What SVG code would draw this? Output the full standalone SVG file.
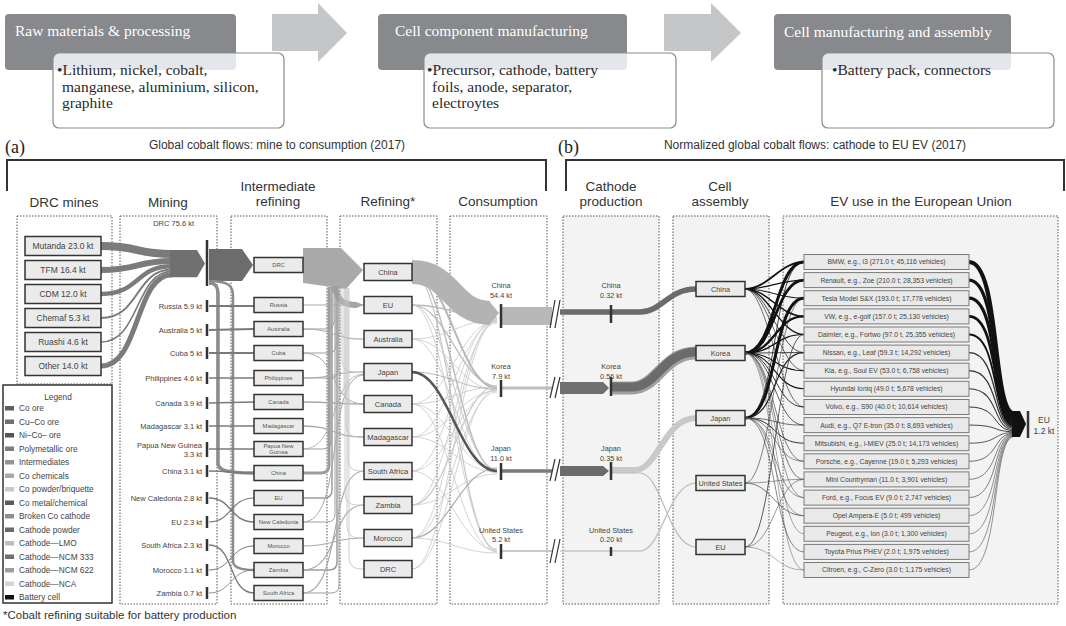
<svg xmlns="http://www.w3.org/2000/svg" width="1066" height="626" viewBox="0 0 1066 626">
<defs>
<style>
text{font-family:"Liberation Sans",Arial,sans-serif;fill:#333}
.ban{font-family:"Liberation Serif","Times New Roman",serif;font-size:15.5px;fill:#2a2a2a}
.banw{font-family:"Liberation Serif","Times New Roman",serif;font-size:15.5px;fill:#fff}
.ser{font-family:"Liberation Serif","Times New Roman",serif;font-size:18px;fill:#222}
.dk{fill:#88898c}
.wb{fill:#fff}
.wbs{fill:none;stroke:#8a8a8a;stroke-width:1.2}
.ov{fill:#e3e7ec}
.arr{fill:#c5c6c8}
.hdr{font-size:13.5px;text-anchor:middle;fill:#333}
.ttl{font-size:12px;text-anchor:middle;fill:#333}
.brk{fill:none;stroke:#333;stroke-width:2}
.dash{fill:none;stroke:#555;stroke-width:1;stroke-dasharray:1.5 1.5}
.shade{fill:#f3f3f3}
.nb{fill:#ebebeb;stroke:#333;stroke-width:1.5}
.eb{fill:#e9e9e9;stroke:#7a7a7a;stroke-width:1}
.bar{stroke:#333;stroke-width:2.5}
.l85{font-size:8.5px;text-anchor:middle;fill:#444}
.ml{font-size:7.5px;text-anchor:end;fill:#444}
.il{font-size:5.8px;text-anchor:middle;fill:#555}
.rl{font-size:7.5px;text-anchor:middle;fill:#444}
.cl{font-size:7.3px;text-anchor:middle;fill:#444}
.el{font-size:6.8px;text-anchor:middle;fill:#444}
.lg{font-size:8.3px;fill:#444}
.bm{fill:none;stroke:#333;stroke-width:1.2}
</style>
</defs>
<rect width="1066" height="626" fill="#fff"/>

<!-- Banner -->
<g id="stage-raw">
<rect x="5" y="14" width="231" height="56" rx="4" class="dk"/>
<rect x="53" y="53" width="231" height="75" rx="6" class="wb"/>
<path d="M53.6,59 Q53.6,53.6 59,53.6 H236 V66 Q236,70 232,70 H53.6 Z" class="ov"/>
<rect x="53" y="53" width="231" height="75" rx="6" class="wbs"/>
<text x="15" y="36" class="banw">Raw materials &amp; processing</text>
<text x="57" y="75" class="ban">•Lithium, nickel, cobalt,</text>
<text x="62" y="92" class="ban">manganese, aluminium, silicon,</text>
<text x="62" y="108" class="ban">graphite</text>
</g>
<g id="arrow-1"><polygon points="272,14 318,14 318,3 347,33 318,62 318,51 272,51" class="arr"/></g>
<g id="stage-component">
<rect x="378" y="14" width="249" height="56" rx="4" class="dk"/>
<rect x="424" y="53" width="252" height="75" rx="6" class="wb"/>
<path d="M424.6,59 Q424.6,53.6 430,53.6 H627 V66 Q627,70 623,70 H424.6 Z" class="ov"/>
<rect x="424" y="53" width="252" height="75" rx="6" class="wbs"/>
<text x="395" y="36" class="banw">Cell component manufacturing</text>
<text x="427" y="75" class="ban">•Precursor, cathode, battery</text>
<text x="432" y="92" class="ban">foils, anode, separator,</text>
<text x="432" y="108" class="ban">electroytes</text>
</g>
<g id="arrow-2"><polygon points="664,14 711,14 711,3 741,33 711,62 711,51 664,51" class="arr"/></g>
<g id="stage-cell">
<rect x="774" y="14" width="237" height="56" rx="4" class="dk"/>
<rect x="822" y="53" width="232" height="75" rx="6" class="wb"/>
<path d="M822.6,59 Q822.6,53.6 828,53.6 H1011 V66 Q1011,70 1007,70 H822.6 Z" class="ov"/>
<rect x="822" y="53" width="232" height="75" rx="6" class="wbs"/>
<text x="784" y="37" class="banw">Cell manufacturing and assembly</text>
<text x="832" y="75" class="ban">•Battery pack, connectors</text>
</g>

<!-- Titles and brackets -->
<g id="titles">
<text x="5" y="153" class="ser">(a)</text>
<text x="277" y="149" class="ttl">Global cobalt flows: mine to consumption (2017)</text>
<path d="M7,191 V160 H546 V191" class="brk"/>
<text x="558" y="153" class="ser">(b)</text>
<text x="815" y="149" class="ttl">Normalized global cobalt flows: cathode to EU EV (2017)</text>
<path d="M566,191 V160 H1064 V191" class="brk"/>
<text x="64" y="207" class="hdr">DRC mines</text>
<text x="168" y="207" class="hdr">Mining</text>
<text x="278" y="191" class="hdr">Intermediate</text>
<text x="278" y="206" class="hdr">refining</text>
<text x="388" y="206" class="hdr">Refining*</text>
<text x="498" y="206" class="hdr">Consumption</text>
<text x="611" y="191" class="hdr">Cathode</text>
<text x="611" y="206" class="hdr">production</text>
<text x="720" y="191" class="hdr">Cell</text>
<text x="720" y="206" class="hdr">assembly</text>
<text x="921" y="206" class="hdr">EV use in the European Union</text>
<text x="3" y="619" style="font-size:11.5px;fill:#333">*Cobalt refining suitable for battery production</text>
</g>

<!-- Column frames -->
<g id="columns">
<rect x="17" y="216" width="95" height="168" class="dash"/>
<rect x="120" y="216" width="97" height="388" class="dash"/>
<rect x="231" y="216" width="96" height="388" class="dash"/>
<rect x="340" y="216" width="97" height="388" class="dash"/>
<rect x="450" y="216" width="97" height="388" class="dash"/>
<rect x="563" y="216" width="96" height="388" class="shade"/>
<rect x="563" y="216" width="96" height="388" class="dash"/>
<rect x="673" y="216" width="96" height="388" class="shade"/>
<rect x="673" y="216" width="96" height="388" class="dash"/>
<rect x="783" y="216" width="275" height="388" class="shade"/>
<rect x="783" y="216" width="275" height="388" class="dash"/>
</g>

<!-- Connectors -->
<g id="connectors" fill="none">
<g stroke="#7b7b7b">
<path d="M101,246 C140,246 135,254 172,254" stroke-width="8"/>
<path d="M101,270 C140,270 135,261 172,261" stroke-width="6"/>
<path d="M101,294 C140,294 135,266.3 172,266.3" stroke-width="4.5"/>
<path d="M101,318 C140,318 135,269.5 172,269.5" stroke-width="2"/>
<path d="M101,342 C140,342 135,271.4 172,271.4" stroke-width="1.7"/>
<path d="M101,366 C140,366 135,274.7 172,274.7" stroke-width="5"/>
</g>
<polygon points="170,250 197,250 205,263.6 197,277.2 170,277.2" fill="#707070"/>
<polygon points="209,249 242,249 253,265 242,281 209,281" fill="#6c6c6c"/>
<g stroke="#8c8c8c">
<path d="M209,283 C216,283 218,287 218,295 V463 C218,470 225,473 254,473" stroke-width="3.5"/>
<path d="M209,281 C229,281 233,286 233,296 V561 C233,567 240,570 254,570" stroke-width="2.5"/>
</g>
<g stroke="#7a7a7a">
<path d="M209,306 H254" stroke-width="2"/>
<path d="M209,330 C230,330 232,329 254,329" stroke-width="1.8"/>
<path d="M209,353 H254" stroke-width="1.8"/>
<path d="M209,378 H254" stroke-width="1.7"/>
<path d="M209,403 C230,403 232,402 254,402" stroke-width="1.6"/>
<path d="M209,426 H254" stroke-width="1.4"/>
<path d="M209,449 H254" stroke-width="1.4"/>
<path d="M209,471 C230,471 232,473 254,473" stroke-width="1.4"/>
<path d="M209,498 C232,498 230,522 254,522" stroke-width="1.5"/>
<path d="M209,522 C232,522 230,498 254,498" stroke-width="1.2"/>
<path d="M209,545 C235,545 228,593 254,593" stroke-width="1.3"/>
<path d="M209,570 C232,570 230,546 254,546" stroke-width="1"/>
<path d="M209,593 C232,593 230,570 254,570" stroke-width="0.8"/>
</g>
<!-- intermediate to refining -->
<polygon points="303,248 341,248 363,270 346,289 303,283" fill="#a9a9a9"/>
<path d="M334,286 C338,300 342,305 357,305" stroke="#a3a3a3" stroke-width="6"/>
<polygon points="356,302 364,305 356,308" fill="#a3a3a3"/>
<g stroke="#9d9d9d">
<path d="M303,329 H326 Q334,329 334,321 V287" stroke-width="1"/>
<path d="M303,353 H328 Q336,353 336,345 V287" stroke-width="1"/>
<path d="M303,378 H330 Q338,378 338,370 V287" stroke-width="1"/>
<path d="M303,449 H323 Q331,449 331,441 V287" stroke-width="1.2"/>
<path d="M303,473 H321 Q329,473 329,465 V287" stroke-width="3"/>
<path d="M303,498 H324 Q332,498 332,490 V287" stroke-width="1.5"/>
<path d="M303,522 H327 Q335,522 335,514 V287" stroke-width="1"/>
<path d="M303,570 H329 Q337,570 337,562 V287" stroke-width="1.5"/>
<path d="M303,593 H331 Q339,593 339,585 V287" stroke-width="1"/>
</g>
<g stroke="#aaaaaa">
<path d="M303,305 H364" stroke-width="1.2"/>
<path d="M303,329 C335,329 332,339 364,339" stroke-width="1"/>
<path d="M303,353 C340,353 328,404 364,404" stroke-width="1"/>
<path d="M303,378 C335,378 332,372 364,372" stroke-width="1"/>
<path d="M303,402 C335,402 332,404 364,404" stroke-width="1.3"/>
<path d="M303,426 C335,426 332,437 364,437" stroke-width="1.3"/>
<path d="M303,449 C340,449 330,374 364,374" stroke-width="0.8"/>
<path d="M303,522 C345,522 325,375 364,375" stroke-width="1"/>
<path d="M303,546 C335,546 332,538 364,538" stroke-width="1.2"/>
<path d="M303,570 C340,570 330,505 364,505" stroke-width="1.2"/>
<path d="M303,593 C342,593 328,471 364,471" stroke-width="1.2"/>
</g>
<g stroke="#c2c2c2" stroke-width="0.8">
<path d="M340,288 V327 Q340,339 352,339 H364"/>
<path d="M342,288 V360 Q342,372 354,372 H364"/>
<path d="M344,288 V392 Q344,404 356,404 H364"/>
<path d="M346,288 V425 Q346,437 358,437 H364"/>
<path d="M348,288 V459 Q348,471 360,471 H364"/>
<path d="M345,288 V493 Q345,505 357,505 H364"/>
<path d="M347,288 V526 Q347,538 359,538 H364"/>
<path d="M349,288 V557 Q349,569 361,569 H364"/>
</g>
<!-- refining to consumption -->
<g stroke="#c8c8c8" stroke-width="0.8">
<path d="M412,272 C448,272 460,388 497,388" stroke="#b8b8b8" stroke-width="2"/>
<path d="M412,272 C448,272 460,471 497,471" stroke="#bdbdbd" stroke-width="1.5"/>
<path d="M412,272 C448,272 460,551 497,551" stroke="#c5c5c5" stroke-width="1.2"/>
<path d="M412,305 C448,305 460,318 497,318" stroke="#bbbbbb" stroke-width="1.5"/>
<path d="M412,305 C448,305 460,386 497,386" stroke="#bbbbbb" stroke-width="1.2"/>
<path d="M412,305 C448,305 460,469 497,469" stroke-width="1"/>
<path d="M412,305 C448,305 460,549 497,549"/>
<path d="M412,339 C448,339 460,320 497,320"/>
<path d="M412,339 C448,339 460,390 497,390"/>
<path d="M412,339 C448,339 460,473 497,473"/>
<path d="M412,372 C448,372 460,389 497,389" stroke="#aaaaaa"/>
<path d="M412,404 C448,404 460,321 497,321"/>
<path d="M412,404 C448,404 460,387 497,387"/>
<path d="M412,404 C448,404 460,470 497,470"/>
<path d="M412,404 C448,404 460,552 497,552"/>
<path d="M412,437 C448,437 460,322 497,322"/>
<path d="M412,437 C448,437 460,391 497,391"/>
<path d="M412,437 C448,437 460,472 497,472"/>
<path d="M412,471 C448,471 460,319 497,319"/>
<path d="M412,471 C448,471 460,390 497,390"/>
<path d="M412,471 C448,471 460,550 497,550"/>
<path d="M412,505 C448,505 460,323 497,323"/>
<path d="M412,505 C448,505 460,386 497,386" stroke-width="1.2"/>
<path d="M412,505 C448,505 460,474 497,474"/>
<path d="M412,538 C448,538 460,320 497,320"/>
<path d="M412,538 C448,538 460,392 497,392"/>
<path d="M412,538 C448,538 460,468 497,468" stroke="#aaaaaa" stroke-width="1.2"/>
<path d="M412,538 C448,538 460,553 497,553"/>
<path d="M412,569 C448,569 460,321 497,321"/>
<path d="M412,569 C448,569 460,389 497,389"/>
</g>
<path d="M412,372 C448,372 460,471 497,471" stroke="#555" stroke-width="2.5"/>
<path d="M412,272 C452,272 452,313 490,313" stroke="#b3b3b3" stroke-width="24"/>
<polygon points="489,301 499,313 489,325" fill="#b3b3b3"/>
<!-- consumption to break -->
<rect x="502" y="307" width="50" height="18" fill="#b8b8b8"/>
<path d="M502,388 H552" stroke="#bdbdbd" stroke-width="3"/>
<path d="M502,471 H552" stroke="#7a7a7a" stroke-width="3.5"/>
<path d="M502,551 H552" stroke="#c8c8c8" stroke-width="2"/>
<path d="M550,328 L555,300 M555,328 L560,300" class="bm"/>
<path d="M550,398 L555,377 M555,398 L560,377" class="bm"/>
<path d="M550,481 L555,459 M555,481 L560,459" class="bm"/>
<path d="M550,563 L555,539 M555,563 L560,539" class="bm"/>
<!-- cathode to cell -->
<path d="M560,312 H640 C662,312 668,289 696,289" stroke="#6b6b6b" stroke-width="5.5"/>
<polygon points="560,382 603,382 609,388 603,394 560,394" fill="#707070"/>
<path d="M612,388 H632 C657,388 663,353 696,353" stroke="#a0a0a0" stroke-width="13"/>
<path d="M612,387 H632 C657,387 663,352 696,352" stroke="#6b6b6b" stroke-width="9"/>
<polygon points="560,466 603,466 609,471 603,476 560,476" fill="#6b6b6b"/>
<path d="M612,470 H635 C658,470 664,418 696,418" stroke="#c9c9c9" stroke-width="6"/>
<path d="M612,473 H640 C662,473 668,547 696,547" stroke="#bbbbbb" stroke-width="1.2"/>
<path d="M560,551 H640 C662,551 668,483 696,483" stroke="#c6c6c6" stroke-width="1.5"/>
<!-- cell to EV -->
<g stroke="#111">
<path d="M745,289 C768,289 780,262 804,262" stroke-width="1.8"/>
<path d="M745,289 C768,289 780,280.1 804,280.1" stroke-width="1.2"/>
<path d="M745,289 C768,289 780,298.2 804,298.2" stroke-width="1"/>
<path d="M745,289 C768,289 780,316.4 804,316.4" stroke-width="1.5"/>
<path d="M745,289 C768,289 780,334.5 804,334.5" stroke-width="1.3"/>
<path d="M745,289 C768,289 780,352.6 804,352.6" stroke-width="0.8" stroke="#222"/>
<path d="M745,289 C768,289 780,370.7 804,370.7" stroke-width="0.7" stroke="#222"/>
<path d="M745,289 C768,289 780,407 804,407" stroke-width="0.7" stroke="#333"/>
<path d="M745,353 C775,353 775,262 804,262" stroke-width="3"/>
<path d="M745,353 C775,353 775,280.1 804,280.1" stroke-width="2.8"/>
<path d="M745,353 C775,353 775,316.4 804,316.4" stroke-width="2.2"/>
<path d="M745,353 C775,353 775,334.5 804,334.5" stroke-width="1.2"/>
<path d="M745,353 C775,353 775,352.6 804,352.6" stroke-width="0.8"/>
<path d="M745,353 C775,353 775,370.7 804,370.7" stroke-width="1.1"/>
<path d="M745,353 C775,353 775,388.8 804,388.8" stroke-width="1.1"/>
<path d="M745,353 C775,353 775,407 804,407" stroke-width="0.9" stroke="#222"/>
<path d="M745,353 C775,353 775,425.1 804,425.1" stroke-width="0.8" stroke="#333"/>
<path d="M745,353 C775,353 775,461.3 804,461.3" stroke-width="0.7" stroke="#444"/>
<path d="M745,353 C775,353 775,479.4 804,479.4" stroke-width="0.7" stroke="#444"/>
<path d="M745,353 C775,353 775,497.6 804,497.6" stroke-width="0.6" stroke="#555"/>
<path d="M745,353 C775,353 775,533.8 804,533.8" stroke-width="0.5" stroke="#555"/>
<path d="M745,353 C775,353 775,570 804,570" stroke-width="0.5" stroke="#555"/>
<path d="M745,418 C778,418 772,298.2 804,298.2" stroke-width="3"/>
<path d="M745,418 C778,418 772,262 804,262" stroke-width="0.8"/>
<path d="M745,418 C778,418 772,352.6 804,352.6" stroke-width="1.2" stroke="#222"/>
<path d="M745,418 C778,418 772,425.1 804,425.1" stroke-width="0.7" stroke="#333"/>
<path d="M745,418 C778,418 772,443.2 804,443.2" stroke-width="1" stroke="#333"/>
<path d="M745,418 C778,418 772,461.3 804,461.3" stroke-width="0.6" stroke="#444"/>
<path d="M745,418 C778,418 772,497.6 804,497.6" stroke-width="0.6" stroke="#555"/>
<path d="M745,418 C778,418 772,515.7 804,515.7" stroke-width="0.6" stroke="#555"/>
<path d="M745,418 C778,418 772,551.9 804,551.9" stroke-width="0.7" stroke="#555"/>
<path d="M745,483 C772,483 776,515.7 804,515.7" stroke-width="0.8" stroke="#555"/>
<path d="M745,483 C772,483 776,298.2 804,298.2" stroke-width="0.6" stroke="#333"/>
<path d="M745,483 C772,483 776,479.4 804,479.4" stroke-width="0.6" stroke="#555"/>
<path d="M745,547 C774,547 776,334.5 804,334.5" stroke-width="0.8" stroke="#333"/>
<path d="M745,547 C774,547 776,479.4 804,479.4" stroke-width="0.6" stroke="#555"/>
<path d="M745,547 C774,547 776,570 804,570" stroke-width="0.5" stroke="#666"/>
</g>
<!-- EV to EU -->
<g stroke="#111">
<path d="M969,262 C1000,262 992,413.3 1014,413.3" stroke-width="4.2"/>
<path d="M969,280.1 C1000,280.1 992,417.1 1014,417.1" stroke-width="3.4"/>
<path d="M969,298.2 C1000,298.2 992,420.4 1014,420.4" stroke-width="3.2"/>
<path d="M969,316.4 C1000,316.4 992,423.4 1014,423.4" stroke-width="2.7"/>
<path d="M969,334.5 C1000,334.5 992,425.7 1014,425.7" stroke-width="1.9"/>
<path d="M969,352.6 C1000,352.6 992,427.3 1014,427.3" stroke-width="1.3" stroke="#333"/>
<path d="M969,370.7 C1000,370.7 992,428.5 1014,428.5" stroke-width="1.2" stroke="#333"/>
<path d="M969,388.8 C1000,388.8 992,429.7 1014,429.7" stroke-width="1.1" stroke="#333"/>
<path d="M969,407 C1000,407 992,430.7 1014,430.7" stroke-width="1" stroke="#333"/>
<path d="M969,425.1 C1000,425.1 992,431.7 1014,431.7" stroke-width="0.9" stroke="#333"/>
<path d="M969,443.2 C1000,443.2 992,432.5 1014,432.5" stroke-width="0.8" stroke="#333"/>
<path d="M969,461.3 C1000,461.3 992,433.3 1014,433.3" stroke-width="0.7" stroke="#333"/>
<path d="M969,479.4 C1000,479.4 992,433.9 1014,433.9" stroke-width="0.6" stroke="#333"/>
<path d="M969,497.6 C1000,497.6 992,434.5 1014,434.5" stroke-width="0.6" stroke="#333"/>
<path d="M969,515.7 C1000,515.7 992,435.1 1014,435.1" stroke-width="0.5" stroke="#333"/>
<path d="M969,533.8 C1000,533.8 992,435.6 1014,435.6" stroke-width="0.5" stroke="#333"/>
<path d="M969,551.9 C1000,551.9 992,436.1 1014,436.1" stroke-width="0.5" stroke="#333"/>
<path d="M969,570 C1000,570 992,436.6 1014,436.6" stroke-width="0.5" stroke="#333"/>
</g>
<polygon points="1012,411 1020,411 1026,424 1020,437 1012,437" fill="#111"/>
</g>

<!-- DRC mines -->
<g id="mine-mutanda"><rect x="25" y="236.5" width="76" height="19" class="nb"/><text x="63" y="249" class="l85">Mutanda 23.0 kt</text></g>
<g id="mine-tfm"><rect x="25" y="260.5" width="76" height="19" class="nb"/><text x="63" y="273" class="l85">TFM 16.4 kt</text></g>
<g id="mine-cdm"><rect x="25" y="284.5" width="76" height="19" class="nb"/><text x="63" y="297" class="l85">CDM 12.0 kt</text></g>
<g id="mine-chemaf"><rect x="25" y="308.5" width="76" height="19" class="nb"/><text x="63" y="321" class="l85">Chemaf 5.3 kt</text></g>
<g id="mine-ruashi"><rect x="25" y="332.5" width="76" height="19" class="nb"/><text x="63" y="345" class="l85">Ruashi 4.6 kt</text></g>
<g id="mine-other"><rect x="25" y="356.5" width="76" height="19" class="nb"/><text x="63" y="369" class="l85">Other 14.0 kt</text></g>

<!-- Mining nodes -->
<g id="mining-drc"><line x1="207" y1="240" x2="207" y2="286" class="bar"/><text x="194" y="226" class="ml">DRC 75.6 kt</text></g>
<g id="mining-russia"><line x1="207" y1="300" x2="207" y2="312" class="bar"/><text x="202" y="308.5" class="ml">Russia 5.9 kt</text></g>
<g id="mining-australia"><line x1="207" y1="324" x2="207" y2="336" class="bar"/><text x="202" y="332.5" class="ml">Australia 5 kt</text></g>
<g id="mining-cuba"><line x1="207" y1="347" x2="207" y2="359" class="bar"/><text x="202" y="355.5" class="ml">Cuba 5 kt</text></g>
<g id="mining-philippines"><line x1="207" y1="372" x2="207" y2="384" class="bar"/><text x="202" y="380.5" class="ml">Philippines 4.6 kt</text></g>
<g id="mining-canada"><line x1="207" y1="397" x2="207" y2="409" class="bar"/><text x="202" y="405.5" class="ml">Canada 3.9 kt</text></g>
<g id="mining-madagascar"><line x1="207" y1="420" x2="207" y2="432" class="bar"/><text x="202" y="428.5" class="ml">Madagascar 3.1 kt</text></g>
<g id="mining-png"><line x1="207" y1="442" x2="207" y2="457" class="bar"/><text x="202" y="448" class="ml">Papua New Guinea</text><text x="202" y="457" class="ml">3.3 kt</text></g>
<g id="mining-china"><line x1="207" y1="465" x2="207" y2="477" class="bar"/><text x="202" y="473.5" class="ml">China 3.1 kt</text></g>
<g id="mining-newcaledonia"><line x1="207" y1="492" x2="207" y2="504" class="bar"/><text x="202" y="500.5" class="ml">New Caledonia 2.8 kt</text></g>
<g id="mining-eu"><line x1="207" y1="516" x2="207" y2="528" class="bar"/><text x="202" y="524.5" class="ml">EU 2.3 kt</text></g>
<g id="mining-southafrica"><line x1="207" y1="539" x2="207" y2="551" class="bar"/><text x="202" y="547.5" class="ml">South Africa 2.3 kt</text></g>
<g id="mining-morocco"><line x1="207" y1="564" x2="207" y2="576" class="bar"/><text x="202" y="572.5" class="ml">Morocco 1.1 kt</text></g>
<g id="mining-zambia"><line x1="207" y1="587" x2="207" y2="599" class="bar"/><text x="202" y="595.5" class="ml">Zambia 0.7 kt</text></g>

<!-- Intermediate refining -->
<g id="int-drc"><rect x="254" y="257.5" width="49" height="15" class="nb"/><text x="278.5" y="267" class="il">DRC</text></g>
<g id="int-russia"><rect x="254" y="297.5" width="49" height="15" class="nb"/><text x="278.5" y="307" class="il">Russia</text></g>
<g id="int-australia"><rect x="254" y="321.5" width="49" height="15" class="nb"/><text x="278.5" y="331" class="il">Australia</text></g>
<g id="int-cuba"><rect x="254" y="345.5" width="49" height="15" class="nb"/><text x="278.5" y="355" class="il">Cuba</text></g>
<g id="int-philippines"><rect x="254" y="370.5" width="49" height="15" class="nb"/><text x="278.5" y="380" class="il">Philippines</text></g>
<g id="int-canada"><rect x="254" y="394.5" width="49" height="15" class="nb"/><text x="278.5" y="404" class="il">Canada</text></g>
<g id="int-madagascar"><rect x="254" y="418.5" width="49" height="15" class="nb"/><text x="278.5" y="428" class="il">Madagascar</text></g>
<g id="int-png"><rect x="254" y="441.5" width="49" height="15" class="nb"/><text x="278.5" y="447.5" class="il">Papua New</text><text x="278.5" y="454" class="il">Guinea</text></g>
<g id="int-china"><rect x="254" y="465.5" width="49" height="15" class="nb"/><text x="278.5" y="475" class="il">China</text></g>
<g id="int-eu"><rect x="254" y="490.5" width="49" height="15" class="nb"/><text x="278.5" y="500" class="il">EU</text></g>
<g id="int-newcaledonia"><rect x="254" y="514.5" width="49" height="15" class="nb"/><text x="278.5" y="524" class="il">New Caledonia</text></g>
<g id="int-morocco"><rect x="254" y="538.5" width="49" height="15" class="nb"/><text x="278.5" y="548" class="il">Morocco</text></g>
<g id="int-zambia"><rect x="254" y="562.5" width="49" height="15" class="nb"/><text x="278.5" y="572" class="il">Zambia</text></g>
<g id="int-southafrica"><rect x="254" y="585.5" width="49" height="15" class="nb"/><text x="278.5" y="595" class="il">South Africa</text></g>

<!-- Refining -->
<g id="ref-china"><rect x="364" y="263.5" width="48" height="17" class="nb"/><text x="388" y="274.7" class="rl">China</text></g>
<g id="ref-eu"><rect x="364" y="296.5" width="48" height="17" class="nb"/><text x="388" y="307.7" class="rl">EU</text></g>
<g id="ref-australia"><rect x="364" y="330.5" width="48" height="17" class="nb"/><text x="388" y="341.7" class="rl">Australia</text></g>
<g id="ref-japan"><rect x="364" y="363.5" width="48" height="17" class="nb"/><text x="388" y="374.7" class="rl">Japan</text></g>
<g id="ref-canada"><rect x="364" y="395.5" width="48" height="17" class="nb"/><text x="388" y="406.7" class="rl">Canada</text></g>
<g id="ref-madagascar"><rect x="364" y="428.5" width="48" height="17" class="nb"/><text x="388" y="439.7" class="rl">Madagascar</text></g>
<g id="ref-southafrica"><rect x="364" y="462.5" width="48" height="17" class="nb"/><text x="388" y="473.7" class="rl">South Africa</text></g>
<g id="ref-zambia"><rect x="364" y="496.5" width="48" height="17" class="nb"/><text x="388" y="507.7" class="rl">Zambia</text></g>
<g id="ref-morocco"><rect x="364" y="529.5" width="48" height="17" class="nb"/><text x="388" y="540.7" class="rl">Morocco</text></g>
<g id="ref-drc"><rect x="364" y="560.5" width="48" height="17" class="nb"/><text x="388" y="571.7" class="rl">DRC</text></g>

<!-- Consumption -->
<g id="cons-china"><line x1="501" y1="304" x2="501" y2="328" class="bar"/><text x="501" y="288" class="cl">China</text><text x="501" y="298" class="cl">54.4 kt</text></g>
<g id="cons-korea"><line x1="501" y1="380" x2="501" y2="397" class="bar"/><text x="501" y="369" class="cl">Korea</text><text x="501" y="379" class="cl">7.9 kt</text></g>
<g id="cons-japan"><line x1="501" y1="463" x2="501" y2="480" class="bar"/><text x="501" y="451" class="cl">Japan</text><text x="501" y="461" class="cl">11.0 kt</text></g>
<g id="cons-us"><line x1="501" y1="544" x2="501" y2="559" class="bar"/><text x="501" y="533" class="cl">United States</text><text x="501" y="542" class="cl">5.2 kt</text></g>

<!-- Cathode production -->
<g id="cath-china"><line x1="611" y1="305" x2="611" y2="323" class="bar"/><text x="611" y="288" class="cl">China</text><text x="611" y="298" class="cl">0.32 kt</text></g>
<g id="cath-korea"><line x1="611" y1="377" x2="611" y2="396" class="bar"/><text x="611" y="369" class="cl">Korea</text><text x="611" y="379" class="cl">0.56 kt</text></g>
<g id="cath-japan"><line x1="611" y1="462" x2="611" y2="480" class="bar"/><text x="611" y="451" class="cl">Japan</text><text x="611" y="461" class="cl">0.35 kt</text></g>
<g id="cath-us"><line x1="611" y1="547" x2="611" y2="556" class="bar"/><text x="611" y="533" class="cl">United States</text><text x="611" y="542" class="cl">0.20 kt</text></g>

<!-- Cell assembly -->
<g id="cell-china"><rect x="696" y="281.5" width="49" height="15" class="nb"/><text x="720.5" y="291.5" class="cl">China</text></g>
<g id="cell-korea"><rect x="696" y="345.5" width="49" height="15" class="nb"/><text x="720.5" y="355.5" class="cl">Korea</text></g>
<g id="cell-japan"><rect x="696" y="410.5" width="49" height="15" class="nb"/><text x="720.5" y="420.5" class="cl">Japan</text></g>
<g id="cell-us"><rect x="696" y="475.5" width="49" height="15" class="nb"/><text x="720.5" y="485.5" class="cl">United States</text></g>
<g id="cell-eu"><rect x="696" y="539.5" width="49" height="15" class="nb"/><text x="720.5" y="549.5" class="cl">EU</text></g>

<!-- EV models -->
<g id="ev-bmw"><rect x="804" y="254.5" width="165" height="15" class="eb"/><text x="886.5" y="264.4" class="el">BMW, e.g., i3 (271.0 t; 45,116 vehicles)</text></g>
<g id="ev-renault"><rect x="804" y="272.6" width="165" height="15" class="eb"/><text x="886.5" y="282.5" class="el">Renault, e.g., Zoe (210.0 t; 28,353 vehicles)</text></g>
<g id="ev-tesla"><rect x="804" y="290.7" width="165" height="15" class="eb"/><text x="886.5" y="300.6" class="el">Tesla Model S&amp;X (193.0 t; 17,778 vehicles)</text></g>
<g id="ev-vw"><rect x="804" y="308.9" width="165" height="15" class="eb"/><text x="886.5" y="318.8" class="el">VW, e.g., e-golf (157.0 t; 25,130 vehicles)</text></g>
<g id="ev-daimler"><rect x="804" y="327" width="165" height="15" class="eb"/><text x="886.5" y="336.9" class="el">Daimler, e.g., Fortwo (97.0 t, 25,355 vehicles)</text></g>
<g id="ev-nissan"><rect x="804" y="345.1" width="165" height="15" class="eb"/><text x="886.5" y="355" class="el">Nissan, e.g., Leaf (59.3 t; 14,292 vehicles)</text></g>
<g id="ev-kia"><rect x="804" y="363.2" width="165" height="15" class="eb"/><text x="886.5" y="373.1" class="el">Kia, e.g., Soul EV (53.0 t; 6,758 vehicles)</text></g>
<g id="ev-hyundai"><rect x="804" y="381.3" width="165" height="15" class="eb"/><text x="886.5" y="391.2" class="el">Hyundai Ioniq (49.0 t; 5,678 vehicles)</text></g>
<g id="ev-volvo"><rect x="804" y="399.5" width="165" height="15" class="eb"/><text x="886.5" y="409.4" class="el">Volvo, e.g., S90 (40.0 t; 10,614 vehicles)</text></g>
<g id="ev-audi"><rect x="804" y="417.6" width="165" height="15" class="eb"/><text x="886.5" y="427.5" class="el">Audi, e.g., Q7 E-tron (35.0 t; 8,693 vehicles)</text></g>
<g id="ev-mitsubishi"><rect x="804" y="435.7" width="165" height="15" class="eb"/><text x="886.5" y="445.6" class="el">Mitsubishi, e.g., i-MiEV (25.0 t; 14,173 vehicles)</text></g>
<g id="ev-porsche"><rect x="804" y="453.8" width="165" height="15" class="eb"/><text x="886.5" y="463.7" class="el">Porsche, e.g., Cayenne (19.0 t; 5,293 vehicles)</text></g>
<g id="ev-mini"><rect x="804" y="471.9" width="165" height="15" class="eb"/><text x="886.5" y="481.8" class="el">Mini Countryman (11.0 t; 3,901 vehicles)</text></g>
<g id="ev-ford"><rect x="804" y="490.1" width="165" height="15" class="eb"/><text x="886.5" y="500" class="el">Ford, e.g., Focus EV (9.0 t; 2,747 vehicles)</text></g>
<g id="ev-opel"><rect x="804" y="508.2" width="165" height="15" class="eb"/><text x="886.5" y="518.1" class="el">Opel Ampera-E (5.0 t; 499 vehicles)</text></g>
<g id="ev-peugeot"><rect x="804" y="526.3" width="165" height="15" class="eb"/><text x="886.5" y="536.2" class="el">Peugeot, e.g., Ion (3.0 t; 1,300 vehicles)</text></g>
<g id="ev-toyota"><rect x="804" y="544.4" width="165" height="15" class="eb"/><text x="886.5" y="554.3" class="el">Toyota Prius PHEV (2.0 t; 1,975 vehicles)</text></g>
<g id="ev-citroen"><rect x="804" y="562.5" width="165" height="15" class="eb"/><text x="886.5" y="572.4" class="el">Citroen, e.g., C-Zero (3.0 t; 1,175 vehicles)</text></g>

<g id="eu-node"><line x1="1028" y1="411" x2="1028" y2="438" class="bar"/><text x="1044" y="423" style="font-size:8.5px;text-anchor:middle;fill:#444">EU</text><text x="1044" y="434" style="font-size:8.5px;text-anchor:middle;fill:#444">1.2 kt</text></g>

<!-- Legend -->
<g id="legend">
<rect x="3" y="385" width="109" height="218" fill="#fff" stroke="#333" stroke-width="1.5"/>
<text x="58" y="400" class="lg" text-anchor="middle">Legend</text>
<rect x="5" y="406" width="9" height="4.5" fill="#5e5e5e"/><text x="19" y="411" class="lg">Co ore</text>
<rect x="5" y="419.5" width="9" height="4.5" fill="#707070"/><text x="19" y="424.5" class="lg">Cu–Co ore</text>
<rect x="5" y="433" width="9" height="4.5" fill="#555"/><text x="19" y="438" class="lg">Ni–Co– ore</text>
<rect x="5" y="446.5" width="9" height="4.5" fill="#7d7d7d"/><text x="19" y="451.5" class="lg">Polymetallic ore</text>
<rect x="5" y="460" width="9" height="4.5" fill="#949494"/><text x="19" y="465" class="lg">Intermediates</text>
<rect x="5" y="473.5" width="9" height="4.5" fill="#a8a8a8"/><text x="19" y="478.5" class="lg">Co chemicals</text>
<rect x="5" y="487" width="9" height="4.5" fill="#c8c8c8"/><text x="19" y="492" class="lg">Co powder/briquette</text>
<rect x="5" y="500.5" width="9" height="4.5" fill="#5a5a5a"/><text x="19" y="505.5" class="lg">Co metal/chemical</text>
<rect x="5" y="514" width="9" height="4.5" fill="#8e8e8e"/><text x="19" y="519" class="lg">Broken Co cathode</text>
<rect x="5" y="527.5" width="9" height="4.5" fill="#6a6a6a"/><text x="19" y="532.5" class="lg">Cathode powder</text>
<rect x="5" y="541" width="9" height="4.5" fill="#bdbdbd"/><text x="19" y="546" class="lg">Cathode—LMO</text>
<rect x="5" y="554.5" width="9" height="4.5" fill="#6f6f6f"/><text x="19" y="559.5" class="lg">Cathode—NCM 333</text>
<rect x="5" y="568" width="9" height="4.5" fill="#9e9e9e"/><text x="19" y="573" class="lg">Cathode—NCM 622</text>
<rect x="5" y="581.5" width="9" height="4.5" fill="#d4d4d4"/><text x="19" y="586.5" class="lg">Cathode—NCA</text>
<rect x="5" y="595" width="9" height="4.5" fill="#111"/><text x="19" y="600" class="lg">Battery cell</text>
</g>
</svg>
